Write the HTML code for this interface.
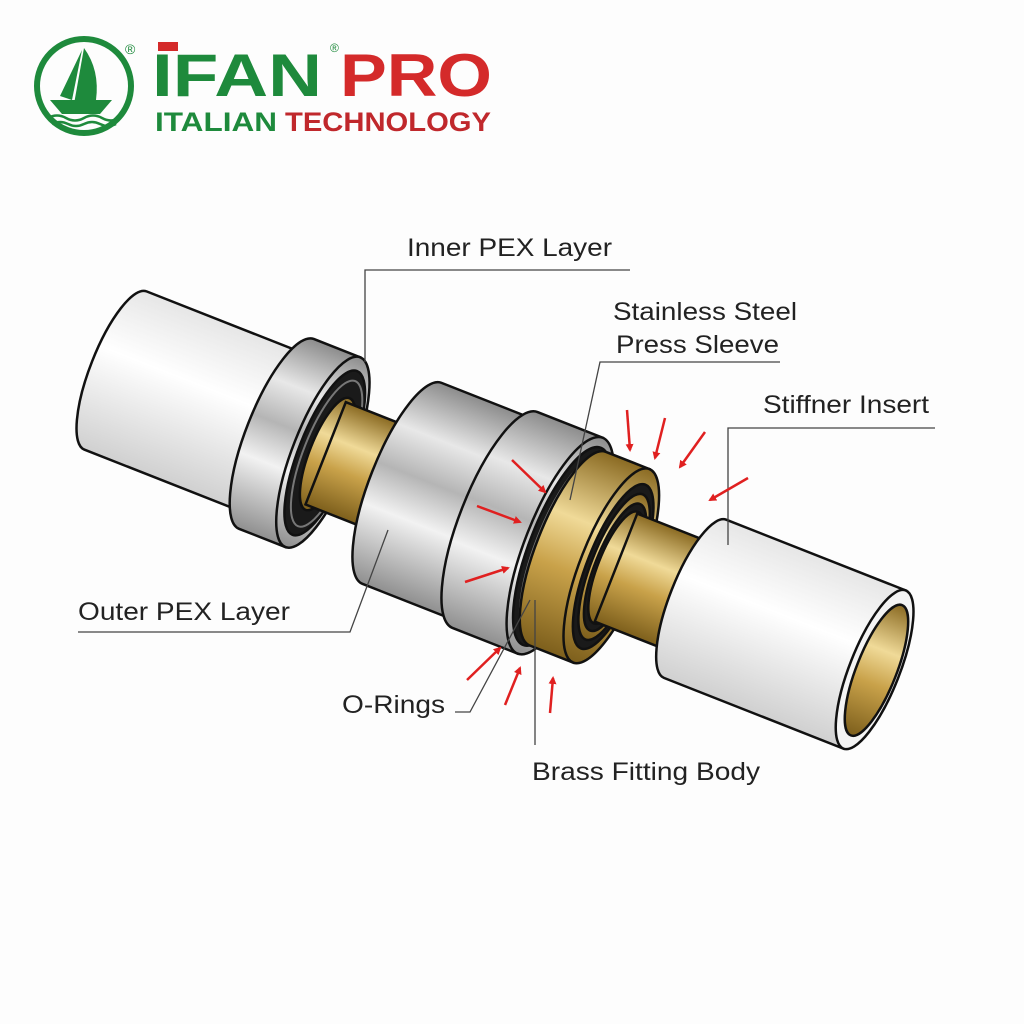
<!DOCTYPE html>
<html><head><style>
html,body{margin:0;padding:0;background:#fdfdfd;}
svg{display:block;}
text{font-family:"Liberation Sans",sans-serif;}
</style></head><body>
<svg width="1024" height="1024" viewBox="0 0 1024 1024" xmlns="http://www.w3.org/2000/svg">
<defs>
<linearGradient id="metal" x1="0" y1="0" x2="0" y2="1">
<stop offset="0" stop-color="#8c8c8c"/><stop offset="0.25" stop-color="#e8e8e8"/><stop offset="0.45" stop-color="#b5b5b5"/><stop offset="0.65" stop-color="#f2f2f2"/><stop offset="1" stop-color="#8f8f8f"/>
</linearGradient>
<linearGradient id="pipe" x1="0" y1="0" x2="0" y2="1">
<stop offset="0" stop-color="#e6e6e6"/><stop offset="0.4" stop-color="#ffffff"/><stop offset="1" stop-color="#d0d0d0"/>
</linearGradient>
<linearGradient id="brass" x1="0" y1="0" x2="0" y2="1">
<stop offset="0" stop-color="#8a6a22"/><stop offset="0.35" stop-color="#f0da98"/><stop offset="0.6" stop-color="#c9a24a"/><stop offset="1" stop-color="#7d5f1c"/>
</linearGradient>
<marker id="ah" markerWidth="8" markerHeight="8" refX="6" refY="4" orient="auto" markerUnits="userSpaceOnUse"><path d="M0,0 L8,4 L0,8 z" fill="#e02020"/></marker>
</defs>
<rect width="1024" height="1024" fill="#fdfdfd"/>

<!-- Logo -->
<circle cx="84" cy="86" r="47" fill="none" stroke="#1e8a3c" stroke-width="6"/>
<path d="M82,50 L72,100 L60,96 Z" fill="#1e8a3c"/>
<path d="M84,48 Q100,70 96,100 L74,104 Z" fill="#1e8a3c"/>
<path d="M50,100 L112,100 L100,114 L62,114 Z" fill="#1e8a3c"/>
<path d="M48,118 q9,-5 18,0 t18,0 t18,0 t18,0" fill="none" stroke="#1e8a3c" stroke-width="2.5"/>
<path d="M52,124 q8,-4 16,0 t16,0 t16,0 t16,0" fill="none" stroke="#1e8a3c" stroke-width="2.5"/>
<text x="125" y="54" font-size="14" fill="#1e8a3c">®</text>
<text x="152" y="96" font-size="60" font-weight="bold" fill="#1e8a3c" textLength="170" lengthAdjust="spacingAndGlyphs">IFAN</text>
<rect x="158" y="42" width="20" height="9" fill="#d42a2a"/>
<text x="330" y="52" font-size="12" fill="#1e8a3c">®</text>
<text x="340" y="96" font-size="60" font-weight="bold" fill="#d42a2a" textLength="152" lengthAdjust="spacingAndGlyphs">PRO</text>
<text x="155" y="131" font-size="27" font-weight="bold" fill="#1e8a3c" textLength="122" lengthAdjust="spacingAndGlyphs">ITALIAN</text>
<text x="285" y="131" font-size="27" font-weight="bold" fill="#c0282c" textLength="206" lengthAdjust="spacingAndGlyphs">TECHNOLOGY</text>

<!-- Assembly -->
<g transform="translate(495,520) rotate(21.5)" stroke="#111" stroke-width="2.5">
  <path d="M-408,-85 L-225,-85 L-225,85 L-408,85 A25,85 0 0 1 -408,-85 Z" fill="url(#pipe)"/>
  <path d="M-235,-102 L-185,-102 L-185,102 L-235,102 A30,102 0 0 1 -235,-102 Z" fill="url(#metal)"/>
  <ellipse cx="-185" cy="0" rx="30" ry="102" fill="url(#metal)"/>
  <ellipse cx="-183" cy="0" rx="26" ry="88" fill="#1a1a1a"/>
  <ellipse cx="-181" cy="0" rx="23" ry="78" fill="none" stroke="#777" stroke-width="2"/>
  <ellipse cx="-180" cy="0" rx="18" ry="60" fill="url(#brass)"/>
  <rect x="-182" y="-55" width="95" height="110" fill="url(#brass)"/>
  <path d="M-100,-108 L10,-108 L10,108 L-100,108 A32,108 0 0 1 -100,-108 Z" fill="url(#metal)"/>
  <path d="M0,-116 L70,-116 L70,116 L0,116 A35,116 0 0 1 0,-116 Z" fill="url(#metal)"/>
  <ellipse cx="70" cy="0" rx="35" ry="116" fill="url(#metal)"/>
  <ellipse cx="72" cy="0" rx="32" ry="106" fill="#1a1a1a"/>
  <ellipse cx="75" cy="0" rx="29" ry="98" fill="none" stroke="#777" stroke-width="2"/>
  <path d="M78,-104 L125,-104 L125,104 L78,104 A31,104 0 0 1 78,-104 Z" fill="url(#brass)"/>
  <ellipse cx="125" cy="0" rx="31" ry="104" fill="url(#brass)"/>
  <ellipse cx="127" cy="0" rx="26" ry="88" fill="#1a1a1a"/>
  <ellipse cx="128" cy="0" rx="23" ry="78" fill="url(#brass)"/>
  <ellipse cx="129" cy="0" rx="20" ry="68" fill="#1a1a1a"/>
  <ellipse cx="130" cy="0" rx="18" ry="60" fill="url(#brass)"/>
  <rect x="130" y="-58" width="90" height="116" fill="url(#brass)"/>
  <path d="M215,-85 L408,-85 L408,85 L215,85 A25,85 0 0 1 215,-85 Z" fill="url(#pipe)"/>
  <ellipse cx="408" cy="0" rx="25" ry="85" fill="#f4f4f4"/>
  <ellipse cx="410" cy="0" rx="20" ry="70" fill="url(#brass)"/>
</g>

<g stroke="#444" stroke-width="1.3" fill="none">
  <path d="M630,270 L365,270 L365,362"/>
  <path d="M780,362 L600,362 L570,500"/>
  <path d="M935,428 L728,428 L728,545"/>
  <path d="M78,632 L350,632 L388,530"/>
  <path d="M455,712 L470,712 L530,600"/>
  <path d="M535,600 L535,745"/>
</g>
<g font-size="25" fill="#222">
  <text x="407" y="256" textLength="205" lengthAdjust="spacingAndGlyphs">Inner PEX Layer</text>
  <text x="613" y="320" textLength="184" lengthAdjust="spacingAndGlyphs">Stainless Steel</text>
  <text x="616" y="353" textLength="163" lengthAdjust="spacingAndGlyphs">Press Sleeve</text>
  <text x="763" y="413" textLength="166" lengthAdjust="spacingAndGlyphs">Stiffner Insert</text>
  <text x="78" y="620" textLength="212" lengthAdjust="spacingAndGlyphs">Outer PEX Layer</text>
  <text x="342" y="713" textLength="103" lengthAdjust="spacingAndGlyphs">O-Rings</text>
  <text x="532" y="780" textLength="228" lengthAdjust="spacingAndGlyphs">Brass Fitting Body</text>
</g>

<g stroke="#e02020" stroke-width="2.5" marker-end="url(#ah)">
  <line x1="627" y1="410" x2="630" y2="450"/>
  <line x1="665" y1="418" x2="655" y2="458"/>
  <line x1="705" y1="432" x2="680" y2="467"/>
  <line x1="748" y1="478" x2="710" y2="500"/>
  <line x1="512" y1="460" x2="545" y2="492"/>
  <line x1="477" y1="506" x2="520" y2="522"/>
  <line x1="465" y1="582" x2="508" y2="568"/>
  <line x1="467" y1="680" x2="500" y2="648"/>
  <line x1="505" y1="705" x2="520" y2="668"/>
  <line x1="550" y1="713" x2="553" y2="678"/>
</g>
</svg>
</body></html>
